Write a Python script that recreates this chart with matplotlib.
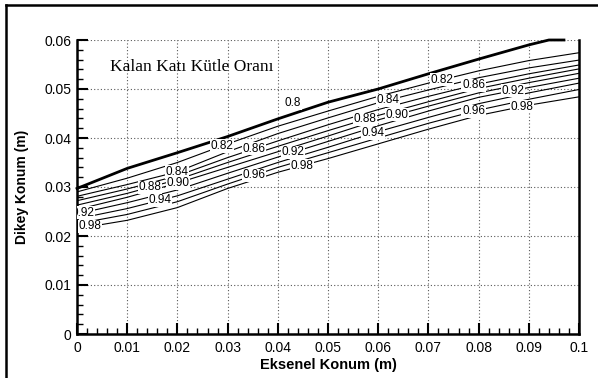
import matplotlib
matplotlib.use("Agg")
import matplotlib.pyplot as plt
from matplotlib.lines import Line2D
from matplotlib.ticker import MultipleLocator
import numpy as np

plt.rcParams['font.family'] = ['Liberation Sans', 'DejaVu Sans']

# x positions where the contour lines were read (m)
x_pts = [0.0, 0.01, 0.02, 0.03, 0.04, 0.05, 0.06, 0.07, 0.08, 0.09, 0.10]

# thick 0.8 boundary line
x_080 = [0.0, 0.01, 0.02, 0.03, 0.04, 0.05, 0.06, 0.07, 0.08, 0.09, 0.094, 0.097]
y_080 = [0.0297, 0.0338, 0.0370, 0.0403, 0.0439, 0.0473, 0.0500, 0.0531, 0.0561, 0.0590, 0.0600, 0.0600]

# thin contour lines
levels = [0.82, 0.84, 0.86, 0.88, 0.90, 0.92, 0.94, 0.96, 0.98]
y_082 = [0.0290, 0.0318, 0.0350, 0.0388, 0.0424, 0.0455, 0.0485, 0.0512, 0.0537, 0.0558, 0.0574]
y_084 = [0.0281, 0.0305, 0.0331, 0.0372, 0.0409, 0.0441, 0.0472, 0.0498, 0.0523, 0.0543, 0.0559]
y_086 = [0.0272, 0.0296, 0.0323, 0.0360, 0.0394, 0.0427, 0.0458, 0.0485, 0.0510, 0.0531, 0.0549]
y_088 = [0.0263, 0.0287, 0.0315, 0.0350, 0.0383, 0.0415, 0.0446, 0.0474, 0.0501, 0.0522, 0.0541]
y_090 = [0.0254, 0.0279, 0.0308, 0.0340, 0.0372, 0.0404, 0.0437, 0.0465, 0.0492, 0.0513, 0.0532]
y_092 = [0.0245, 0.0268, 0.0294, 0.0328, 0.0361, 0.0393, 0.0425, 0.0455, 0.0483, 0.0503, 0.0522]
y_094 = [0.0235, 0.0256, 0.0282, 0.0316, 0.0350, 0.0381, 0.0413, 0.0442, 0.0470, 0.0492, 0.0512]
y_096 = [0.0225, 0.0244, 0.0270, 0.0306, 0.0340, 0.0370, 0.0400, 0.0430, 0.0457, 0.0479, 0.0499]
y_098 = [0.0215, 0.0232, 0.0258, 0.0297, 0.0330, 0.0358, 0.0388, 0.0418, 0.0446, 0.0467, 0.0484]
lines = [y_082, y_084, y_086, y_088, y_090, y_092, y_094, y_096, y_098]

# inline labels: level and x position along the line
label_lvl = [0.84, 0.88, 0.90, 0.94, 0.92, 0.98,
             0.82, 0.86, 0.92, 0.96, 0.98,
             0.84, 0.88, 0.90, 0.94,
             0.82, 0.86, 0.92, 0.96, 0.98]
label_x = [0.0199, 0.0145, 0.0201, 0.0165, 0.0012, 0.0026,
           0.0289, 0.0353, 0.0430, 0.0353, 0.0448,
           0.0620, 0.0574, 0.0637, 0.0590,
           0.0727, 0.0790, 0.0869, 0.0790, 0.0886]

fig = plt.figure(figsize=(5.98, 3.78), dpi=100)
ax = fig.add_axes([77/598, 44/378, 502/598, 294/378])

ax.grid(True, which='major', color='0.35', linestyle=(0, (1, 2)), lw=0.8)
ax.set_axisbelow(True)

for yy in lines:
    ax.plot(x_pts, yy, color='black', lw=0.8, zorder=3)
ax.plot(x_080, y_080, color='black', lw=2.0, zorder=3, clip_on=False)

lab_box = dict(boxstyle='square,pad=0.05', fc='white', ec='none')
for lv, lx in zip(label_lvl, label_x):
    ly = np.interp(lx, x_pts, lines[levels.index(lv)])
    ax.text(lx, ly, '%.2f' % lv, ha='center', va='center', fontsize=8.5,
            bbox=lab_box, zorder=4, clip_on=True)
ax.text(0.043, np.interp(0.043, x_080, y_080) + 0.0022, '0.8', ha='center',
        va='center', fontsize=8.5, bbox=lab_box, zorder=4)

ax.text(0.066, 0.908, 'Kalan Katı Kütle Oranı', transform=ax.transAxes,
        family='Liberation Serif', fontsize=12.5, ha='left', va='center')

ax.set_xlim(0, 0.1)
ax.set_ylim(0, 0.06)
ax.xaxis.set_major_locator(MultipleLocator(0.01))
ax.xaxis.set_minor_locator(MultipleLocator(0.002))
ax.yaxis.set_major_locator(MultipleLocator(0.01))
ax.yaxis.set_minor_locator(MultipleLocator(0.002))
ax.set_xticks([0, 0.01, 0.02, 0.03, 0.04, 0.05, 0.06, 0.07, 0.08, 0.09, 0.1])
ax.set_xticklabels(['0', '0.01', '0.02', '0.03', '0.04', '0.05', '0.06',
                    '0.07', '0.08', '0.09', '0.1'])
ax.set_yticks([0, 0.01, 0.02, 0.03, 0.04, 0.05, 0.06])
ax.set_yticklabels(['0', '0.01', '0.02', '0.03', '0.04', '0.05', '0.06'])

ax.tick_params(which='major', direction='in', length=8, width=1.5,
               labelsize=10, top=False, right=False)
ax.tick_params(which='minor', direction='in', length=4, width=1.0,
               top=False, right=False)
ax.tick_params(axis='x', which='major', pad=5)
ax.tick_params(axis='y', which='major', pad=4)

ax.spines['top'].set_visible(False)
for side in ['left', 'bottom', 'right']:
    ax.spines[side].set_linewidth(1.8)

ax.set_xlabel('Eksenel Konum (m)', fontsize=10.5, fontweight='bold')
ax.set_ylabel('Dikey Konum (m)', fontsize=10, fontweight='bold')
ax.xaxis.set_label_coords(0.5, -0.08)
ax.yaxis.set_label_coords(-0.095, 0.5)

# outer frame of the figure
fig.add_artist(Line2D([6/598, 6/598], [0, 1 - 5/378], color='black', lw=1.8,
                      transform=fig.transFigure))
fig.add_artist(Line2D([6/598, 1], [1 - 5/378, 1 - 5/378], color='black', lw=1.8,
                      transform=fig.transFigure))

fig.savefig('out.png', dpi=100)
